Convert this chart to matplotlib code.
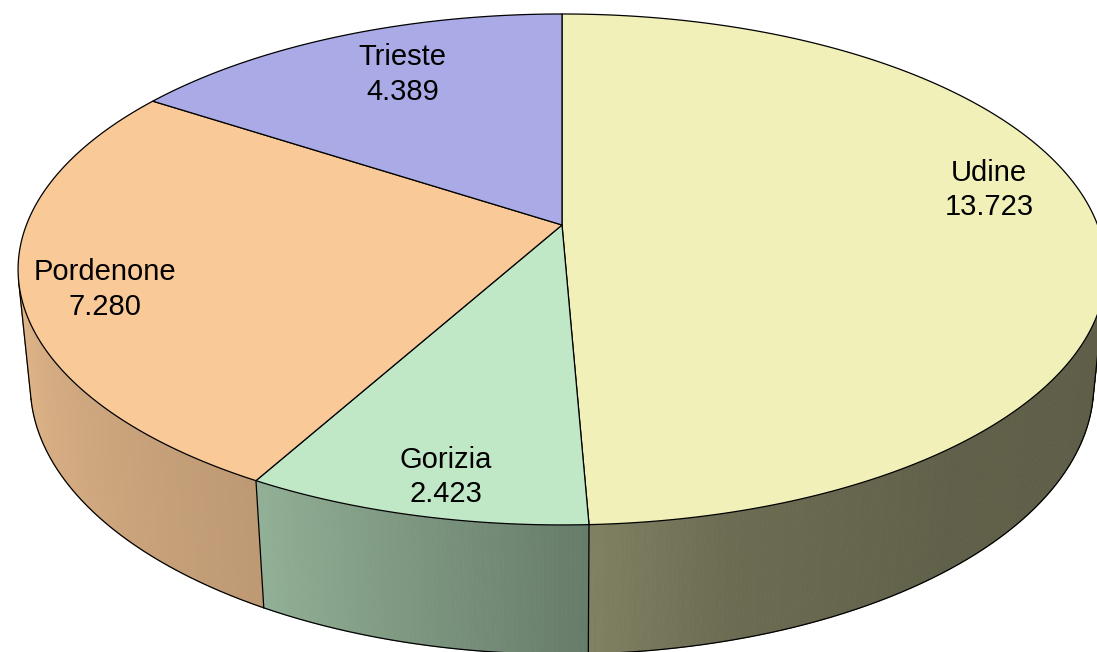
import numpy as np
import matplotlib
matplotlib.use("Agg")
import matplotlib.pyplot as plt
from matplotlib.patches import Polygon
from matplotlib.colors import to_rgb

# ---- data ----
regions = ["Udine", "Gorizia", "Pordenone", "Trieste"]
values = [13.723, 2.423, 7.280, 4.389]
value_labels = ["13.723", "2.423", "7.280", "4.389"]
top_colors = ["#F0F0B8", "#C0E8C6", "#F9C998", "#AAAAE6"]
label_offsets = [(0, -31), (-2, 29), (-27, 15), (22, 5)]  # pixel nudges

plt.rcParams['font.family'] = ['Liberation Sans', 'DejaVu Sans']

W, Hpx = 1097, 652
fig = plt.figure(figsize=(W / 100, Hpx / 100), dpi=100)
ax = fig.add_axes([0, 0, 1, 1])
ax.set_xlim(0, W)
ax.set_ylim(Hpx, 0)
ax.axis('off')

# ---- perspective camera ----
cx, cy = 562, 225
F = 2729.0
D = 5.095
alpha = np.radians(27.55)
depth = 0.245
ca, sa = np.cos(alpha), np.sin(alpha)


def proj(theta_deg, r=1.0, z=0.0):
    t = np.radians(theta_deg)
    X = r * np.sin(t)
    Y = r * np.cos(t)
    yc = Y * sa + z * ca
    zc = D + Y * ca - z * sa
    return cx + F * X / zc, cy - F * yc / zc


total = sum(values)
bounds = np.concatenate([[0], np.cumsum(values) / total * 360.0])

# visible range of the cylinder side
th_vis = np.degrees(np.arccos(-1.0 / (D * ca)))
vis_lo, vis_hi = th_vis, 360 - th_vis

shade_th = [90, 140, 165, 177, 209, 257, 270]
shade_f = [0.39, 0.40, 0.45, 0.53, 0.76, 0.90, 0.90]

# ---- side walls ----
for i, col in enumerate(top_colors):
    a0, a1 = bounds[i], bounds[i + 1]
    lo, hi = max(a0, vis_lo), min(a1, vis_hi)
    if hi <= lo:
        continue
    base = np.array(to_rgb(col))
    n = max(int((hi - lo) / 0.4), 2)
    ts = np.linspace(lo, hi, n + 1)
    for t0, t1 in zip(ts[:-1], ts[1:]):
        f = np.interp(0.5 * (t0 + t1), shade_th, shade_f)
        c = np.clip(base * f, 0, 1)
        p = [proj(t0), proj(t1), proj(t1, z=-depth), proj(t0, z=-depth)]
        ax.add_patch(Polygon(p, closed=True, facecolor=c, edgecolor=c,
                             linewidth=0.6, zorder=1))

# side outlines
ts = np.linspace(vis_lo, vis_hi, 600)
bx, by = proj(ts, z=-depth)
ax.plot(bx, by, color='black', lw=0.9, zorder=2)
for a in list(bounds[1:-1]) + [vis_lo, vis_hi]:
    if vis_lo <= a <= vis_hi:
        x0, y0 = proj(a)
        x1, y1 = proj(a, z=-depth)
        ax.plot([x0, x1], [y0, y1], color='black', lw=0.9, zorder=2)

# ---- top faces ----
for i, col in enumerate(top_colors):
    a0, a1 = bounds[i], bounds[i + 1]
    ts = np.linspace(a0, a1, max(int((a1 - a0) / 0.5), 2) + 1)
    xs, ys = proj(ts)
    pts = [(cx, cy)] + list(zip(xs, ys))
    ax.add_patch(Polygon(pts, closed=True, facecolor=col, edgecolor='black',
                         linewidth=0.9, joinstyle='round', zorder=3))

# ---- labels ----
for i, name in enumerate(regions):
    mid = 0.5 * (bounds[i] + bounds[i + 1])
    lx, ly = proj(mid, r=0.8)
    dx, dy = label_offsets[i]
    ax.text(lx + dx, ly + dy, f"{name}\n{value_labels[i]}", ha='center',
            va='center', fontsize=21, color='black', linespacing=1.3,
            zorder=5)

fig.savefig("out.png", dpi=100)
